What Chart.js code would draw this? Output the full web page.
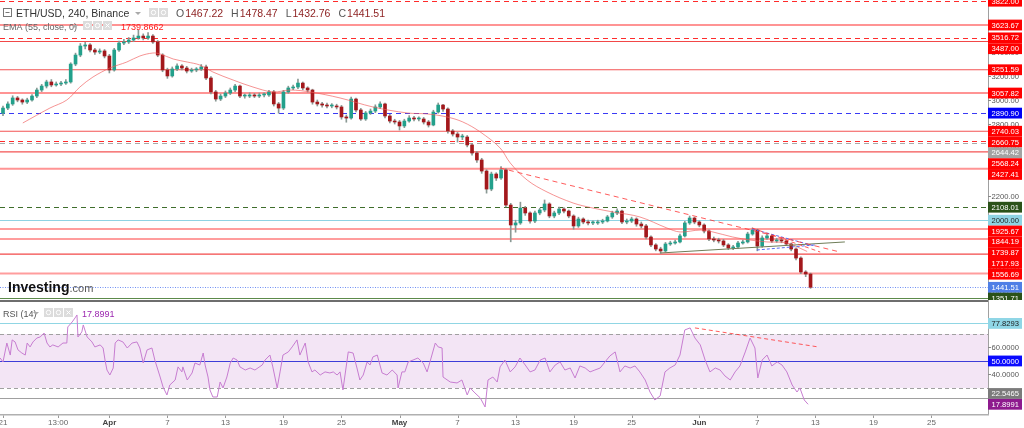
<!DOCTYPE html>
<html><head><meta charset="utf-8">
<script src="https://cdn.jsdelivr.net/npm/chart.js@4.4.0/dist/chart.umd.min.js"></script>
<style>
html,body{margin:0;padding:0;background:#fff;width:1024px;height:428px;overflow:hidden;}
canvas{position:absolute;left:0;}
#main{top:0;}
#rsi{top:300px;}
</style></head><body>
<canvas id="main" width="1024" height="300"></canvas>
<canvas id="rsi" width="1024" height="128"></canvas>
<script>
// ===== DATA (12h candles, index 0 = 21 Mar) =====
const opens = [2890,2933,2967,3017,3000,2983,3000,3033,3083,3116,
3150,3125,3133,3141,3150,3299,3374,3449,3458,3416,
3399,3408,3366,3250,3416,3474,3483,3499,3516,3532,
3516,3532,3483,3374,3250,3200,3258,3283,3266,3241,
3250,3258,3275,3183,3067,3008,3033,3058,3083,3116,
3033,3033,3042,3033,3042,3042,3067,2967,2933,3067,
3100,3108,3141,3100,3083,2983,2967,2958,2950,2950,
2942,2859,2850,3008,2917,2842,2892,2908,2942,2967,
2867,2825,2817,2784,2825,2850,2842,2842,2817,2792,
2900,2958,2925,2742,2717,2692,2692,2626,2559,2501,
2409,2259,2384,2351,2418,2126,1960,1977,2101,2060,
1993,2060,2085,2135,2035,2060,2093,2076,2035,1952,
2010,1985,1977,1977,1985,1993,2027,2060,2076,1985,
1993,2010,1968,1952,1860,1794,1760,1744,1802,1810,
1819,1869,1977,2018,1985,1960,1910,1844,1835,1827,
1794,1769,1777,1810,1819,1885,1918,1785,1852,1869,
1827,1835,1827,1802,1760,1685,1569,1552];
const highs = [2950,2985,3035,3030,3010,3015,3045,3100,3130,3165,
3170,3150,3155,3170,3310,3390,3470,3480,3470,3430,
3425,3420,3380,3430,3490,3505,3520,3540,3580,3550,
3560,3545,3495,3385,3265,3275,3300,3295,3280,3265,
3270,3295,3290,3195,3080,3050,3075,3100,3130,3125,
3050,3060,3055,3058,3060,3080,3080,2980,3080,3115,
3125,3175,3150,3110,3090,3000,2980,2975,2970,2965,
2955,2875,3025,3015,2930,2905,2925,2960,2985,2975,
2880,2840,2830,2840,2870,2865,2860,2855,2830,2915,
2975,2965,2935,2755,2730,2715,2705,2640,2570,2515,
2420,2400,2395,2445,2430,2140,2000,2150,2115,2070,
2075,2100,2168,2145,2075,2110,2105,2085,2045,2025,
2020,2000,1995,2000,2008,2040,2075,2095,2085,2010,
2025,2020,1985,1965,1870,1805,1775,1815,1825,1835,
1885,1990,2035,2025,1995,1970,1920,1860,1850,1840,
1805,1790,1825,1835,1900,1935,1925,1870,1885,1880,
1850,1848,1835,1810,1770,1695,1580,1560];
const lows = [2870,2920,2955,2985,2965,2970,2990,3020,3070,3100,
3110,3115,3120,3130,3140,3285,3360,3425,3400,3380,
3385,3350,3225,3240,3405,3460,3470,3485,3505,3500,
3505,3470,3360,3235,3180,3190,3245,3250,3225,3230,
3235,3245,3170,3050,2990,2995,3020,3045,3070,3020,
3015,3020,3020,3020,3025,3030,2950,2890,2920,3055,
3085,3095,3085,3065,2965,2950,2940,2935,2935,2925,
2840,2815,2840,2900,2830,2830,2880,2895,2930,2850,
2810,2800,2750,2770,2815,2825,2825,2800,2775,2785,
2890,2905,2725,2700,2650,2670,2610,2540,2480,2390,
2225,2245,2330,2340,2110,1820,1900,1965,2040,1975,
1980,2045,2070,2020,2020,2045,2060,2020,1925,1940,
1970,1960,1962,1965,1972,1985,2015,2045,1970,1970,
1980,1950,1935,1845,1780,1745,1725,1735,1790,1800,
1810,1860,1965,1970,1945,1895,1830,1820,1810,1780,
1755,1755,1765,1800,1810,1875,1745,1775,1840,1815,
1815,1812,1790,1745,1670,1555,1530,1432.76];
const closes = [2933,2967,3017,3000,2983,3000,3033,3083,3116,3150,
3125,3133,3141,3150,3299,3374,3449,3458,3416,3399,
3408,3366,3250,3416,3474,3483,3499,3516,3532,3516,
3532,3483,3374,3250,3200,3258,3283,3266,3241,3250,
3258,3275,3183,3067,3008,3033,3058,3083,3116,3033,
3033,3042,3033,3042,3042,3067,2967,2933,3067,3100,
3108,3141,3100,3083,2983,2967,2958,2950,2950,2942,
2859,2850,3008,2917,2842,2892,2908,2942,2967,2867,
2825,2817,2784,2825,2850,2842,2842,2817,2792,2900,
2958,2925,2742,2717,2692,2692,2626,2559,2501,2409,
2259,2384,2351,2418,2126,1960,1977,2101,2060,1993,
2060,2085,2135,2035,2060,2093,2076,2035,1952,2010,
1985,1977,1977,1985,1993,2027,2060,2076,1985,1993,
2010,1968,1952,1860,1794,1760,1744,1802,1810,1819,
1869,1977,2018,1985,1960,1910,1844,1835,1827,1794,
1769,1777,1810,1819,1885,1918,1785,1852,1869,1827,
1835,1827,1802,1760,1685,1569,1552,1441.51];

const emaIdx = [4.1,9.7,13.2,15.9,18.6,22.1,25.6,28.3,31.0,32.5,35.2,38.1,40.7,43.4,47.6,51.7,55.8,59.4,63.5,69.7,76.5,83.6,87.7,91.8,95.1,98.7,102.8,104.9,108.4,112.5,117.9,122.0,126.2,131.7,137.3,140.0,144.2,146.8,150.9,154.5,158.0,162.1,166.3];
const emaVal = [2809,2933,3000,3108,3191,3266,3316,3366,3391,3383,3341,3316,3291,3233,3166,3108,3067,3083,3067,3017,2942,2892,2884,2859,2817,2734,2601,2476,2334,2235,2143,2101,2068,2027,1935,1902,1918,1902,1860,1835,1819,1810,1739.87];

const levelPrices = [3822.00,3623.67,3516.72,3487.00,3251.59,3057.82,2890.90,2740.03,2660.75,2644.42,2568.24,2427.41,2108.01,2000.00,1925.67,1844.19,1717.93,1556.69,1441.51,1351.71];
const axisLabelPrices = [3822.00,3623.67,3516.72,3487.00,3251.59,3057.82,2890.90,2740.03,2660.75,2644.42,2568.24,2427.41,2108.01,2000.00,1925.67,1844.19,1739.87,1717.93,1556.69,1441.51,1351.71];
const priceTicks = [1400,1600,1800,2000,2200,2400,2600,2800,3000,3200,3400,3600,3800];

const trendDown = [[102.8,2434],[173.1,1735]];
const trendShort = [[154.9,1935],[169.0,1735]];
const triUpper = [[154.9,1927],[167.9,1785]];
const triLower = [[155.9,1752],[167.9,1794]];
const support = [[135.9,1727],[174.1,1819]];

const ohlcNames = ['O','H','L','C'];
const ohlcLast = [1467.22,1478.47,1432.76,1441.51];
const emaLast = 1739.8662;

const rsiIdx = [-0.6,0,0.8,1.5,1.9,2.5,3.1,3.9,4.6,5.0,5.6,6.2,7.0,7.7,8.5,9.1,9.7,10.3,11.4,12.4,13.2,13.4,14.3,14.9,15.3,15.5,16.3,16.6,17.4,18.4,19.0,20.1,20.7,21.1,21.5,22.1,22.8,23.2,23.8,24.8,25.7,26.7,27.7,28.3,29.0,29.8,30.8,31.4,32.5,33.1,33.9,34.5,35.6,36.2,37.0,37.2,38.1,39.1,39.7,40.7,41.4,41.8,42.4,42.8,43.4,44.3,44.9,45.5,46.3,47.0,47.6,48.4,49.0,50.1,51.1,52.1,53.6,54.2,55.2,55.8,56.7,57.3,57.9,59.0,59.8,60.8,61.4,62.5,63.1,63.9,64.5,65.6,66.6,67.6,68.3,69.1,69.7,70.3,71.4,72.4,73.2,73.8,74.5,75.3,75.9,76.5,77.4,78.4,79.4,80.5,81.5,81.7,82.5,83.1,83.8,84.8,85.8,86.9,87.7,88.3,89.4,90.0,90.8,91.0,92.5,93.9,94.9,96.0,96.6,97.6,98.7,99.7,100.3,101.3,102.2,102.8,
103.8,104.9,105.9,106.9,108.0,109.0,110.0,111.1,112.1,113.1,114.2,115.2,116.2,117.3,118.3,119.3,120.4,121.4,122.4,123.5,124.5,125.5,126.6,127.6,128.6,129.7,130.7,131.7,132.8,133.8,134.8,135.9,136.9,137.9,139.0,140.0,141.0,142.1,143.1,144.2,145.2,146.2,147.3,148.3,149.3,150.4,151.4,152.4,153.5,154.5,155.5,156.1,157.0,158.0,159.0,160.1,161.1,162.1,163.2,164.2,164.8,165.7,166.5];
const rsiVal = [52.2,49.3,63.3,54.4,65.6,64.1,58.2,55.9,54.4,63.3,60.4,64.1,67.0,67.8,70.7,63.3,60.4,61.9,60.4,63.3,63.3,75.2,78.9,81.9,84.1,67.8,71.5,76.7,67.8,64.1,60.4,61.9,59.6,50.7,43.3,39.6,44.8,63.3,65.6,64.1,59.6,63.3,64.1,59.6,48.5,58.2,59.6,50.7,38.1,30.7,24.8,32.2,35.9,45.6,41.9,45.6,35.9,41.1,48.5,47.0,55.9,47.0,38.1,28.5,23.3,23.3,34.4,30.0,38.1,48.5,52.2,50.7,45.6,43.3,44.8,43.3,47.0,50.7,54.4,45.6,30.0,41.9,54.4,56.7,60.4,65.6,54.4,63.3,49.3,41.9,43.3,39.6,41.9,41.1,41.9,39.6,41.9,28.5,56.7,55.9,44.8,35.9,39.6,49.3,47.0,53.0,54.4,41.1,39.6,43.3,39.6,30.0,41.9,41.9,49.3,50.7,52.2,48.5,41.9,49.3,63.3,60.4,59.6,38.1,34.4,33.7,35.9,24.8,30.0,26.3,22.6,15.9,35.9,38.1,34.4,45.6,
50.7,41.9,45.6,52.2,47.0,41.9,43.3,50.7,52.2,41.9,47.0,49.3,43.3,44.8,37.4,46.3,44.8,41.9,43.3,44.8,49.3,53.7,56.7,41.9,46.3,44.8,46.3,41.9,35.9,27.0,21.1,24.1,41.9,44.8,47.0,54.4,73.0,74.5,67.0,61.9,50.7,41.9,44.8,43.3,38.9,35.9,41.9,46.3,56.7,67.0,59.6,37.4,50.7,54.4,46.3,49.3,47.0,41.9,32.2,27.0,30.0,21.1,17.8991];
const rsiLevels = [77.8293,70,50,30,22.5465];
const rsiTicks = [40,60];
const rsiAxisLabels = [77.8293,50.0000,22.5465,17.8991];
const rsiTrend = [[143.1,74.5],[168.6,60.4]];

const xTickPos = [0,11.4,22,34,46,58,70,82,94,106,118,130,144,156,168,180,192];
const xTickLabels = ['21','13:00','Apr','7','13','19','25','May','7','13','19','25','Jun','7','13','19','25'];

// ===== STYLE =====
const F = '"Liberation Sans", Arial, sans-serif';
const UP = '#23a08b', DOWN = '#a3181c', WICK = '#8a9994';
const RED = '#ff0000';
const levelStyles = [
 {c:'#ff2b2b',w:1,d:[5,4]},{c:'rgba(255,60,60,0.55)',w:2,d:[]},{c:'#ff2b2b',w:1,d:[5,4]},{c:'rgba(240,40,40,0.85)',w:1,d:[]},
 {c:'rgba(240,40,40,0.8)',w:1.2,d:[]},{c:'rgba(255,60,60,0.55)',w:2,d:[]},{c:'#3a3af5',w:1,d:[5,4]},{c:'rgba(240,40,40,0.8)',w:1.2,d:[]},
 {c:'#ff2b2b',w:1,d:[5,4]},{c:'#a8a8a8',w:1,d:[5,4]},{c:'rgba(240,40,40,0.8)',w:1.2,d:[]},{c:'rgba(255,60,60,0.55)',w:2,d:[]},
 {c:'#3f6e2c',w:1,d:[5,4]},{c:'#8fd3e3',w:1,d:[]},{c:'rgba(255,60,60,0.5)',w:2,d:[]},{c:'rgba(255,60,60,0.5)',w:2,d:[]},
 {c:'rgba(240,40,40,0.85)',w:1.2,d:[]},{c:'rgba(255,60,60,0.5)',w:2,d:[]},{c:'#6f8ff5',w:1,d:[1,1.5]},{c:'#5c8a4a',w:1,d:[]}
];
const labelStyles = [
 [RED,'#fff'],[RED,'#fff'],[RED,'#fff'],[RED,'#fff'],[RED,'#fff'],[RED,'#fff'],['#0000f5','#fff'],[RED,'#fff'],[RED,'#fff'],['#a3a3a3','#fff'],
 [RED,'#fff'],[RED,'#fff'],['#2b5219','#fff'],['#8fd3e3','#222'],[RED,'#fff'],[RED,'#fff'],[RED,'#fff'],[RED,'#fff'],[RED,'#fff'],['#4f7fe6','#fff'],['#2b5219','#fff']
];
const rsiLevelStyles = [{c:'#90d6e4',d:[]},{c:'#a0a0a0',d:[4,3]},{c:'#3d3dd8',d:[]},{c:'#a0a0a0',d:[4,3]},{c:'#a0a0a0',d:[]}];
const rsiLabelStyles = [['#8fd6e6','#1a1a1a'],['#0a0aff','#fff'],['#7b7b7b','#fff'],['#8e1a8e','#fff']];

const XMIN = -0.62, XMAX = 203.7;
const LBL_H = 10.8, LBL_X = 988, LBL_W = 34;

function txt(ctx,s,x,y,font,color,align,base){ctx.font=font;ctx.fillStyle=color;ctx.textAlign=align||'left';ctx.textBaseline=base||'alphabetic';ctx.fillText(s,x,y);return ctx.measureText(s).width;}
function hline(ctx,x1,x2,y,c,w,d){ctx.save();ctx.beginPath();ctx.strokeStyle=c;ctx.lineWidth=w;ctx.setLineDash(d||[]);const yy=(w%2===1)?Math.round(y)+0.5:y;ctx.moveTo(x1,yy);ctx.lineTo(x2,yy);ctx.stroke();ctx.restore();}
function arrow(ctx,x,y){ctx.fillStyle='#aaa';ctx.beginPath();ctx.moveTo(x,y);ctx.lineTo(x+6,y);ctx.lineTo(x+3,y+3);ctx.closePath();ctx.fill();}
function icons(ctx,x,y,n){
  for(let k=0;k<n;k++){
    const bx=x+k*10;ctx.fillStyle='#dcdcdc';ctx.fillRect(bx,y,9,9);
    ctx.strokeStyle='#fff';ctx.lineWidth=1;ctx.beginPath();
    if(k===n-1&&n===3){ctx.moveTo(bx+2.5,y+2.5);ctx.lineTo(bx+6.5,y+6.5);ctx.moveTo(bx+6.5,y+2.5);ctx.lineTo(bx+2.5,y+6.5);}
    else {ctx.arc(bx+4.5,y+4.5,2.2,0,Math.PI*2);}
    ctx.stroke();
  }
}
function label(ctx,y,s,bg,fg){
  ctx.fillStyle=bg;ctx.fillRect(LBL_X,y-LBL_H/2,LBL_W,LBL_H);
  txt(ctx,s,LBL_X+3.5,y+0.5,'7.6px '+F,fg,'left','middle');
}
const pts = a => a.map(p=>({x:p[0],y:p[1]}));

const mainDecor = {
  id:'mainDecor',
  beforeDatasetsDraw(chart){
    const ctx=chart.ctx, a=chart.chartArea, ys=chart.scales.y;
    levelPrices.forEach((p,i)=>{const s=levelStyles[i];hline(ctx,a.left,a.right,ys.getPixelForValue(p),s.c,s.w,s.d);});
  },
  afterDraw(chart){
    const ctx=chart.ctx, a=chart.chartArea, ys=chart.scales.y;
    ctx.save();
    ctx.fillStyle='#fff';ctx.fillRect(a.right,0,1024-a.right,300);
    ctx.strokeStyle='#a0a0a0';ctx.lineWidth=1;ctx.setLineDash([]);
    ctx.beginPath();ctx.moveTo(a.right+0.5,0);ctx.lineTo(a.right+0.5,300);ctx.stroke();
    // gray ticks
    priceTicks.forEach(v=>{const y=ys.getPixelForValue(v);
      hline(ctx,a.right,a.right+3,y,'#888',1,[]);
      txt(ctx,v.toFixed(2),LBL_X+3.5,y+0.5,'7.6px '+F,'#555','left','middle');});
    // colored labels, stacked downward
    let prev=-1e9;
    axisLabelPrices.forEach((p,i)=>{let y=ys.getPixelForValue(p);if(y<prev+LBL_H)y=prev+LBL_H;prev=y;
      label(ctx,y,p.toFixed(2),labelStyles[i][0],labelStyles[i][1]);});
    // header
    ctx.strokeStyle='#777';ctx.lineWidth=1;ctx.strokeRect(3.5,8.5,8,8);
    ctx.beginPath();ctx.moveTo(5.5,12.5);ctx.lineTo(9.5,12.5);ctx.stroke();
    txt(ctx,'ETH/USD, 240, Binance',16,17,'10.5px '+F,'#333');
    arrow(ctx,135,12);
    icons(ctx,149,8,2);
    let xx=176;
    ohlcNames.forEach((n,i)=>{xx+=txt(ctx,n,xx,17,'10.5px '+F,'#555')+1;xx+=txt(ctx,ohlcLast[i].toFixed(2),xx,17,'10.5px '+F,'#8b1d1d')+8;});
    txt(ctx,'EMA (55, close, 0)',3,30,'9px '+F,'#666');
    arrow(ctx,72,25);
    icons(ctx,83,21,3);
    txt(ctx,emaLast.toFixed(4),121,30,'9px '+F,'#ff2020');
    // logo
    const w=txt(ctx,'Investing',8,292,'bold 14px '+F,'#111');
    txt(ctx,'.com',8+w,292,'11px '+F,'#555');
    ctx.restore();
  }
};

new Chart(document.getElementById('main'),{
  type:'bar',
  data:{datasets:[
    {type:'line',data:pts(trendDown),borderColor:'rgba(255,50,50,0.8)',borderWidth:1,borderDash:[5,4],pointRadius:0,order:0},
    {type:'line',data:pts(trendShort),borderColor:'rgba(255,50,50,0.8)',borderWidth:1,borderDash:[4,3],pointRadius:0,order:0},
    {type:'line',data:pts(triUpper),borderColor:'#5a6cf0',borderWidth:1,borderDash:[3,2],pointRadius:0,order:0},
    {type:'line',data:pts(triLower),borderColor:'#5a6cf0',borderWidth:1,borderDash:[3,2],pointRadius:0,order:0},
    {type:'line',data:pts(support),borderColor:'#6f7d58',borderWidth:1,pointRadius:0,order:0},
    {type:'line',data:emaIdx.map((x,i)=>({x,y:emaVal[i]})),borderColor:'rgba(240,90,90,0.65)',borderWidth:1,pointRadius:0,tension:0.35,order:0},
    {data:opens.map((o,i)=>({x:i,y:[o,closes[i]]})),backgroundColor:c=>{const r=c.raw;return r&&r.y[1]>=r.y[0]?UP:DOWN;},barThickness:3,grouped:false,minBarLength:1,borderWidth:0,order:1},
    {data:lows.map((l,i)=>({x:i,y:[l,highs[i]]})),backgroundColor:WICK,barThickness:1,grouped:false,borderWidth:0,order:2}
  ]},
  options:{responsive:false,animation:false,devicePixelRatio:1,
    layout:{padding:{left:0,right:36,top:0,bottom:2}},
    plugins:{legend:{display:false},tooltip:{enabled:false}},
    scales:{x:{type:'linear',min:XMIN,max:XMAX,display:false,offset:false},
            y:{min:1352.6,max:3832,display:false}}},
  plugins:[mainDecor]
});

const rsiDecor = {
  id:'rsiDecor',
  beforeDatasetsDraw(chart){
    const ctx=chart.ctx,a=chart.chartArea,ys=chart.scales.y;
    ctx.save();
    const y70=ys.getPixelForValue(70), y30=ys.getPixelForValue(30);
    ctx.fillStyle='#f3e5f5';ctx.fillRect(a.left,y70,a.right-a.left,y30-y70);
    rsiLevels.forEach((v,i)=>{const s=rsiLevelStyles[i];hline(ctx,a.left,a.right,ys.getPixelForValue(v),s.c,1,s.d);});
    ctx.restore();
  },
  afterDraw(chart){
    const ctx=chart.ctx,a=chart.chartArea,ys=chart.scales.y,xs=chart.scales.x;
    ctx.save();
    ctx.fillStyle='#fff';ctx.fillRect(a.right,0,1024-a.right,128);
    ctx.fillStyle='#6e6e6e';ctx.fillRect(0,0,a.right,2);
    ctx.strokeStyle='#a0a0a0';ctx.lineWidth=1;ctx.beginPath();ctx.moveTo(a.right+0.5,0);ctx.lineTo(a.right+0.5,115);ctx.stroke();
    ctx.fillStyle='#b0b0b0';ctx.fillRect(0,a.bottom,a.right+1,1.5);
    rsiTicks.forEach(v=>{const y=ys.getPixelForValue(v);hline(ctx,a.right,a.right+3,y,'#888',1,[]);
      txt(ctx,v.toFixed(4),LBL_X+3.5,y+0.5,'7.6px '+F,'#555','left','middle');});
    const ys2=rsiAxisLabels.map(v=>ys.getPixelForValue(v));
    for(let i=ys2.length-2;i>=0;i--){if(ys2[i]>ys2[i+1]-LBL_H)ys2[i]=ys2[i+1]-LBL_H;}
    rsiAxisLabels.forEach((v,i)=>label(ctx,ys2[i],v.toFixed(4),rsiLabelStyles[i][0],rsiLabelStyles[i][1]));
    // x axis
    xTickPos.forEach((p,i)=>{const x=xs.getPixelForValue(p);
      ctx.strokeStyle='#999';ctx.lineWidth=1;ctx.beginPath();ctx.moveTo(Math.round(x)+0.5,a.bottom+1.5);ctx.lineTo(Math.round(x)+0.5,a.bottom+4);ctx.stroke();
      const s=xTickLabels[i];const month=isNaN(parseInt(s));
      txt(ctx,s,x,122.5,(month?'bold ':'')+'8px '+F,month?'#444':'#666','center','middle');});
    // header
    txt(ctx,'RSI (14)',3,17,'9px '+F,'#555');
    arrow(ctx,33,12);
    icons(ctx,44,8,3);
    txt(ctx,rsiVal[rsiVal.length-1].toFixed(4),82,17,'9px '+F,'#9c27b0');
    ctx.restore();
  }
};

new Chart(document.getElementById('rsi'),{
  type:'line',
  data:{datasets:[
    {data:pts(rsiTrend),borderColor:'rgba(255,50,50,0.8)',borderWidth:1,borderDash:[4,3],pointRadius:0,order:0},
    {data:rsiIdx.map((x,i)=>({x,y:rsiVal[i]})),borderColor:'#c77dd1',borderWidth:1,pointRadius:0,tension:0,order:1}
  ]},
  options:{responsive:false,animation:false,devicePixelRatio:1,
    layout:{padding:{left:0,right:36,top:2,bottom:14}},
    plugins:{legend:{display:false},tooltip:{enabled:false}},
    scales:{x:{type:'linear',min:XMIN,max:XMAX,display:false},
            y:{min:10.7,max:93.7,display:false}}},
  plugins:[rsiDecor]
});
</script>
</body></html>
